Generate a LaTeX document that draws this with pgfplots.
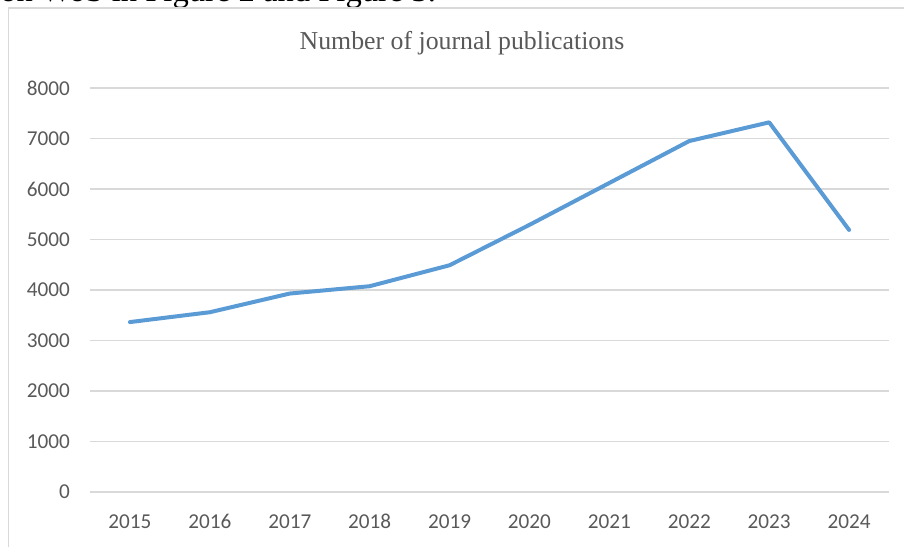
\documentclass[border=0pt]{standalone}
\usepackage{fontspec}
\setmainfont{Liberation Serif}
\newfontfamily\carlito{Carlito}
\usepackage{pgfplots}
\pgfplotsset{compat=1.18}
\definecolor{lineblue}{HTML}{5B9BD5}
\definecolor{gridgray}{HTML}{D9D9D9}
\definecolor{labgray}{HTML}{595959}
\begin{document}
\begin{tikzpicture}
\useasboundingbox (0,0) rectangle (452pt,273pt);
\begin{scope}
\clip (0,0) rectangle (452pt,273pt);
\node[anchor=base west, inner sep=0pt, font=\fontsize{16.3}{18}\selectfont] at (0pt,272.2pt) {on WoS in Figure 2 and Figure 3.};
\draw[gridgray, line width=0.6pt] (4.25pt,-2pt) -- (4.25pt,269pt) -- (460pt,269pt);
\end{scope}
\node[anchor=base, inner sep=0pt, text=labgray, font=\fontsize{12.9}{15}\selectfont] at (231pt,248pt) {Number of journal publications};
\begin{axis}[
  at={(45pt,27pt)}, anchor=south west,
  scale only axis, width=399.5pt, height=202pt,
  xmin=-0.5, xmax=9.5, ymin=0, ymax=8000,
  xtick={0,...,9},
  xticklabels={2015,2016,2017,2018,2019,2020,2021,2022,2023,2024},
  ytick={0,1000,...,8000},
  scaled y ticks=false,
  /pgf/number format/1000 sep={},
  /pgf/number format/assume math mode=true,
  axis line style={draw=none},
  major tick length=0pt,
  ymajorgrids, grid style={gridgray, line width=0.6pt},
  tick label style={font=\carlito\fontsize{10.6}{12}\selectfont, text=labgray},
  yticklabel style={xshift=-6.5pt},
  xticklabel style={anchor=base, yshift=-18pt},
  clip=false,
]
\addplot[lineblue, line width=2pt, line join=round, line cap=round] coordinates {
(0,3365) (1,3560) (2,3930) (3,4075) (4,4490) (5,5290) (6,6120) (7,6950) (8,7320) (9,5190)
};
\end{axis}
\end{tikzpicture}
\end{document}
